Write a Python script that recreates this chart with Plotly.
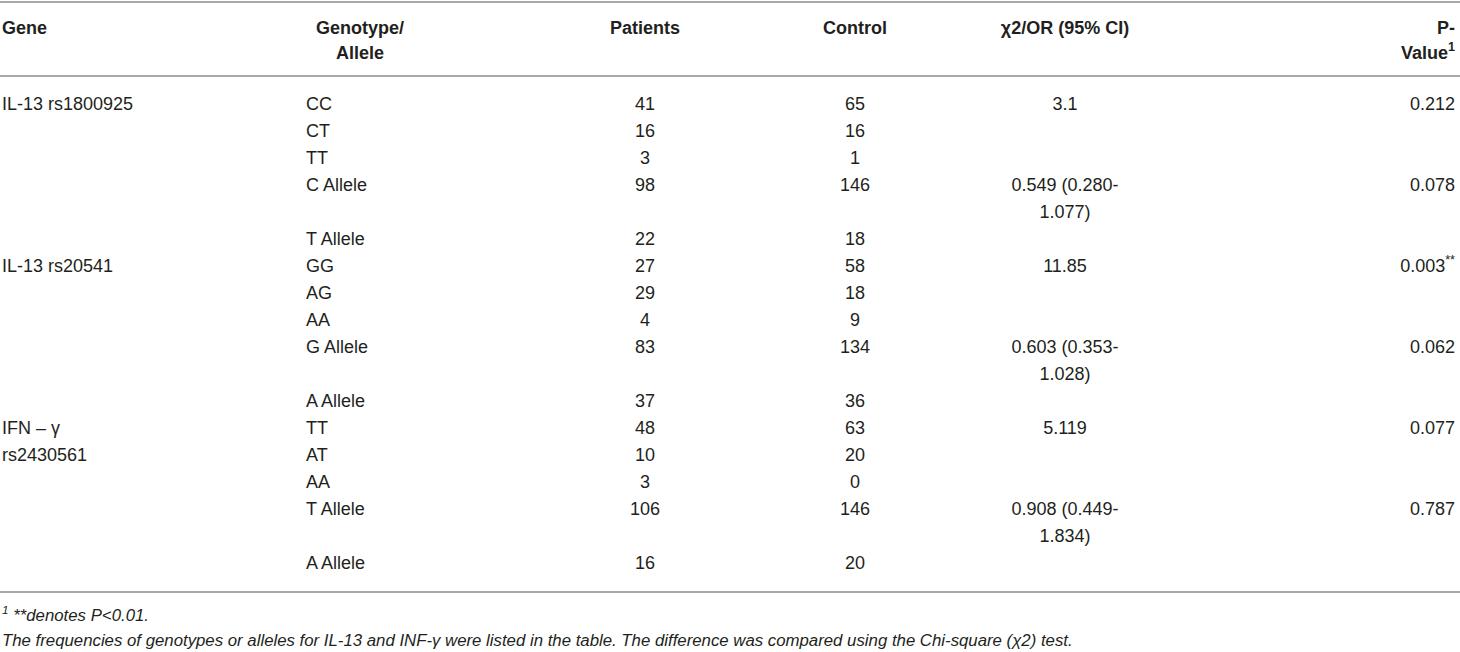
import plotly.graph_objects as go

# table content
genes = ["IL-13 rs1800925", "IL-13 rs20541", "IFN – γ<br>rs2430561"]
group_size = [5, 5, 5]
genotype = ["CC", "CT", "TT", "C Allele", "T Allele",
            "GG", "AG", "AA", "G Allele", "A Allele",
            "TT", "AT", "AA", "T Allele", "A Allele"]
patients = [41, 16, 3, 98, 22, 27, 29, 4, 83, 37, 48, 10, 3, 106, 16]
control = [65, 16, 1, 146, 18, 58, 18, 9, 134, 36, 63, 20, 0, 146, 20]
stat = ["3.1", "", "", "0.549 (0.280-1.077)", "",
        "11.85", "", "", "0.603 (0.353-1.028)", "",
        "5.119", "", "", "0.908 (0.449-1.834)", ""]
pval = ["0.212", "", "", "0.078", "",
        "0.003<sup>**</sup>", "", "", "0.062", "",
        "0.077", "", "", "0.787", ""]

header_top = ["Gene", "Genotype/", "Patients", "Control", "χ2/OR (95% CI)", "P-"]
header_bot = ["", "Allele", "", "", "", "Value<sup>1</sup>"]

footnotes = ["<sup>1</sup> **denotes P&lt;0.01.",
             "The frequencies of genotypes or alleles for IL-13 and INF-γ were listed in the table. "
             "The difference was compared using the Chi-square (χ2) test."]

# layout
W, H = 1460, 652
TXT = "#231f20"
RULE = "#a8a8a8"
FONT = "Liberation Sans, Arial, sans-serif"
FS = 18
LINE_H = 27
BODY_TOP = 105
HEAD_Y = [29, 54]
RULES_Y = [2, 76, 592]
FOOT_Y = [617, 642]

body_x = [2, 306, 645, 855, 1065, 1455]
body_pos = ["middle right", "middle right", "middle center", "middle center",
            "middle center", "middle left"]
head_x = [2, 360, 645, 855, 1065, 1455]
head_pos = ["middle right", "middle center", "middle center", "middle center",
            "middle center", "middle left"]


def wrap_stat(s):
    if "-" in s:
        a, b = s.split("-", 1)
        return [a + "-", b]
    return [s]


# vertical line index of each row (rows with wrapped CI take two lines)
row_line = []
k = 0
for s in stat:
    row_line.append(k)
    k += len(wrap_stat(s))


def ypix(line):
    return BODY_TOP + LINE_H * line


fig = go.Figure()


def add_text(xs, ys, texts, pos, size=FS, color=TXT):
    fig.add_trace(go.Scatter(
        x=xs, y=ys, text=texts, mode="text", textposition=pos,
        textfont=dict(family=FONT, size=size, color=color),
        hoverinfo="skip", showlegend=False, cliponaxis=False))


# header
for j in range(len(header_top)):
    add_text([head_x[j]], [HEAD_Y[0]], [f"<b>{header_top[j]}</b>"], head_pos[j])
    if header_bot[j]:
        add_text([head_x[j]], [HEAD_Y[1]], [f"<b>{header_bot[j]}</b>"], head_pos[j])

# gene column (spans its group)
gx, gy, gt = [], [], []
start = 0
for g, n in zip(genes, group_size):
    for i, part in enumerate(g.split("<br>")):
        gx.append(body_x[0])
        gy.append(ypix(row_line[start] + i))
        gt.append(part)
    start += n
add_text(gx, gy, gt, body_pos[0])

# simple columns
cols = [genotype, [str(v) for v in patients], [str(v) for v in control]]
for j, col in enumerate(cols, start=1):
    add_text([body_x[j]] * len(col), [ypix(l) for l in row_line], col, body_pos[j])

# stat column, wrapped
sx, sy, st = [], [], []
for s, l in zip(stat, row_line):
    if not s:
        continue
    for i, part in enumerate(wrap_stat(s)):
        sx.append(body_x[4])
        sy.append(ypix(l + i))
        st.append(part)
add_text(sx, sy, st, body_pos[4])

# p values
px = [(body_x[5], ypix(l), p) for p, l in zip(pval, row_line) if p]
add_text([p[0] for p in px], [p[1] for p in px], [p[2] for p in px], body_pos[5])

# footnotes
for t, y in zip(footnotes, FOOT_Y):
    add_text([2], [y], [f"<i>{t}</i>"], "middle right", size=16.8)

shapes = [dict(type="line", xref="x", yref="y", x0=0, x1=W, y0=y, y1=y,
               line=dict(color=RULE, width=2)) for y in RULES_Y]

fig.update_layout(
    width=W, height=H,
    margin=dict(l=0, r=0, t=0, b=0),
    paper_bgcolor="white", plot_bgcolor="white",
    xaxis=dict(range=[0, W], visible=False, fixedrange=True),
    yaxis=dict(range=[H, 0], visible=False, fixedrange=True),
    shapes=shapes,
)

fig.write_html("out.html", config={"displayModeBar": False},
               post_script="document.body.style.margin='0';document.body.style.overflow='hidden';")
